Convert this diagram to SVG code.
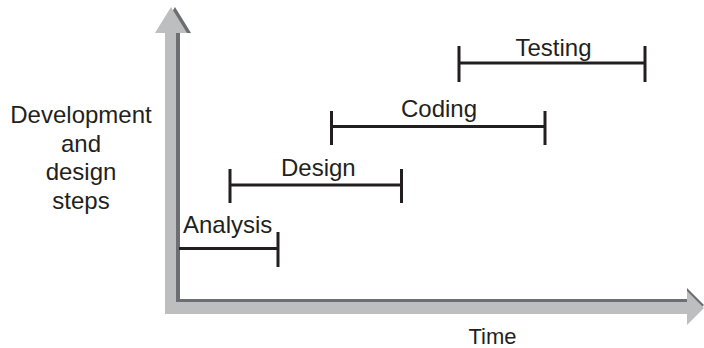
<svg xmlns="http://www.w3.org/2000/svg" width="704" height="348" viewBox="0 0 704 348">
<style>
.t{font-family:"Liberation Sans",Arial,sans-serif;font-size:24px;fill:#231f20}
.bar{stroke:#231f20;stroke-width:3;fill:none}
.sh{fill:#6d6e71}
.lt{fill:#bcbec0}
</style>
<rect width="704" height="348" fill="#ffffff"/>
<g id="axes">
<polygon class="sh" points="169,314 169,33 159,33 175,7 191,33 180,33 180,314"/>
<polygon class="sh" points="165,299 687,299 687,288 704,305 687,322 687,311 165,311"/>
<polygon class="lt" points="165,314 165,33 155,33 171,7 187,33 176,33 176,314"/>
<polygon class="lt" points="165,302 687,302 687,291 704,308 687,325 687,314 165,314"/>
</g>
<g id="y-label">
<text class="t" x="81" y="123" text-anchor="middle">Development</text>
<text class="t" x="81" y="151.5" text-anchor="middle">and</text>
<text class="t" x="81" y="180" text-anchor="middle">design</text>
<text class="t" x="81" y="208.5" text-anchor="middle">steps</text>
</g>
<g id="x-label">
<text class="t" x="492.5" y="344" text-anchor="middle" style="font-size:22px">Time</text>
</g>
<g id="connectors">
<path class="bar" d="M179,248.5H278M278,232V267"/>
<path class="bar" d="M230,185H401.5M230,169V203M401.5,169V203"/>
<path class="bar" d="M331.5,126.5H545M331.5,111V145M545,111V145"/>
<path class="bar" d="M459,63H645M459,46V82M645,46V82"/>
</g>
<g id="analysis"><text class="t" x="183" y="233">Analysis</text></g>
<g id="design"><text class="t" x="281" y="176">Design</text></g>
<g id="coding"><text class="t" x="401" y="116.5">Coding</text></g>
<g id="testing"><text class="t" x="515.5" y="56">Testing</text></g>
</svg>
